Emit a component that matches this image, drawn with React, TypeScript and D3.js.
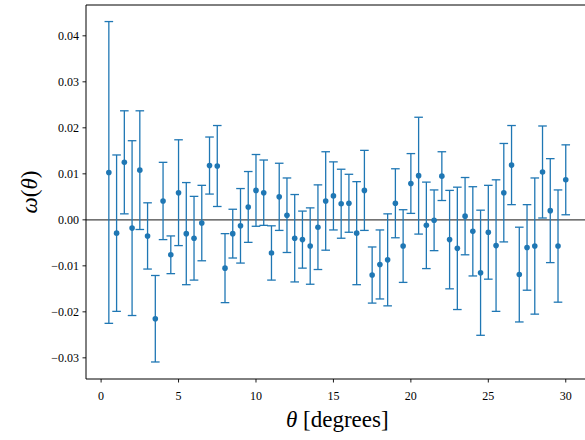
import React from "react";
import * as d3 from "d3";

const thetas = [0.5, 1.0, 1.5, 2.0, 2.5, 3.0, 3.5, 4.0, 4.5, 5.0, 5.5, 6.0, 6.5, 7.0, 7.5, 8.0, 8.5, 9.0, 9.5, 10.0,
  10.5, 11.0, 11.5, 12.0, 12.5, 13.0, 13.5, 14.0, 14.5, 15.0, 15.5, 16.0, 16.5, 17.0, 17.5, 18.0, 18.5, 19.0, 19.5, 20.0,
  20.5, 21.0, 21.5, 22.0, 22.5, 23.0, 23.5, 24.0, 24.5, 25.0, 25.5, 26.0, 26.5, 27.0, 27.5, 28.0, 28.5, 29.0, 29.5, 30.0];

const omega = [0.0103, -0.0029, 0.0125, -0.0018, 0.0108, -0.0035, -0.0215, 0.0041, -0.0076, 0.0059,
  -0.0030, -0.0040, -0.0007, 0.0118, 0.0117, -0.0105, -0.0030, -0.0013, 0.0028, 0.0064,
  0.0059, -0.0072, 0.0050, 0.0010, -0.0040, -0.0043, -0.0057, -0.0016, 0.0041, 0.0052,
  0.0035, 0.0036, -0.0029, 0.0064, -0.0120, -0.0097, -0.0087, 0.0036, -0.0057, 0.0079,
  0.0096, -0.0012, -0.0001, 0.0095, -0.0043, -0.0062, 0.0008, -0.0025, -0.0115, -0.0027,
  -0.0056, 0.0059, 0.0119, -0.0119, -0.0060, -0.0057, 0.0104, 0.0020, -0.0057, 0.0087];

const omegaErr = [0.0328, 0.0170, 0.0112, 0.0190, 0.0129, 0.0072, 0.0094, 0.0084, 0.0041, 0.0115,
  0.0111, 0.0091, 0.0082, 0.0062, 0.0088, 0.0075, 0.0053, 0.0081, 0.0077, 0.0078,
  0.0071, 0.0059, 0.0073, 0.0081, 0.0095, 0.0062, 0.0083, 0.0092, 0.0107, 0.0074,
  0.0075, 0.0063, 0.0112, 0.0087, 0.0061, 0.0075, 0.0100, 0.0075, 0.0079, 0.0065,
  0.0127, 0.0094, 0.0066, 0.0053, 0.0107, 0.0133, 0.0084, 0.0097, 0.0136, 0.0102,
  0.0143, 0.0107, 0.0086, 0.0103, 0.0093, 0.0148, 0.0100, 0.0113, 0.0122, 0.0076];

const xTicks = [0, 5, 10, 15, 20, 25, 30];
const yTicks = [-0.03, -0.02, -0.01, 0.0, 0.01, 0.02, 0.03, 0.04];

const W = 585, H = 440;
const L = 86, T = 5, B = 379;
const C = "#1f77b4";
const FONT = "'Liberation Serif', 'DejaVu Serif', serif";

export default function App() {
  const x = d3.scaleLinear().domain([-0.975, 31.475]).range([L, 588.6]);
  const y = d3.scaleLinear().domain([-0.0346, 0.0467]).range([B, T]);
  const R = x.range()[1];
  const fmtY = (v: number) => {
    const s = Math.abs(v).toFixed(2);
    return v < -1e-9 ? "\u2212" + s : s;
  };
  const cap = 4.3;
  return (
    <svg width={W} height={H} style={{ position: "absolute", left: 0, top: 0, background: "#fff" }}>
      <rect x={0} y={0} width={W} height={H} fill="#fff" />
      {/* zero line */}
      <line x1={L} x2={R} y1={y(0)} y2={y(0)} stroke="#444" strokeWidth={1.3} />
      {/* error bars */}
      {thetas.map((t, i) => {
        const cx = x(t);
        const y1 = y(omega[i] + omegaErr[i]);
        const y0 = y(omega[i] - omegaErr[i]);
        return (
          <g key={i} stroke={C} strokeWidth={1.3}>
            <line x1={cx} x2={cx} y1={y0} y2={y1} />
            <line x1={cx - cap} x2={cx + cap} y1={y1} y2={y1} />
            <line x1={cx - cap} x2={cx + cap} y1={y0} y2={y0} />
          </g>
        );
      })}
      {thetas.map((t, i) => (
        <circle key={"p" + i} cx={x(t)} cy={y(omega[i])} r={2.8} fill={C} />
      ))}
      {/* spines */}
      <line x1={L} x2={L} y1={T} y2={B} stroke="#000" strokeWidth={1} />
      <line x1={L} x2={R} y1={B} y2={B} stroke="#000" strokeWidth={1} />
      <line x1={L} x2={R} y1={T} y2={T} stroke="#000" strokeWidth={1} />
      {/* x ticks */}
      {xTicks.map((v) => (
        <g key={"xt" + v}>
          <line x1={x(v)} x2={x(v)} y1={B} y2={B + 3.5} stroke="#000" strokeWidth={0.9} />
          <text x={x(v)} y={B + 21} fontFamily={FONT} fontSize={12} textAnchor="middle" fill="#000">
            {v}
          </text>
        </g>
      ))}
      {/* y ticks */}
      {yTicks.map((v) => (
        <g key={"yt" + v}>
          <line x1={L - 3.5} x2={L} y1={y(v)} y2={y(v)} stroke="#000" strokeWidth={0.9} />
          <text x={L - 7} y={y(v) + 4} fontFamily={FONT} fontSize={12} textAnchor="end" fill="#000">
            {fmtY(v)}
          </text>
        </g>
      ))}
      {/* axis labels */}
      <text x={(L + R) / 2} y={427} fontFamily={FONT} fontSize={23} textAnchor="middle" fill="#000">
        <tspan fontStyle="italic">θ</tspan> [degrees]
      </text>
      <text
        transform={`translate(37, ${(T + B) / 2}) rotate(-90)`}
        fontFamily={FONT}
        fontSize={23}
        textAnchor="middle"
        fill="#000"
      >
        <tspan fontStyle="italic">ω</tspan>(<tspan fontStyle="italic">θ</tspan>)
      </text>
    </svg>
  );
}
